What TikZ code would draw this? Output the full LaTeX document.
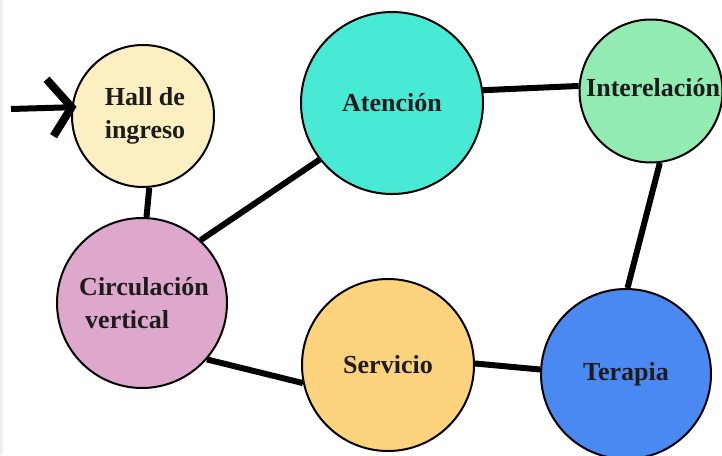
\documentclass[tikz,border=0pt]{standalone}
\usepackage{fontspec}
\setmainfont{Liberation Serif}
\definecolor{hallc}{HTML}{FCF0C2}
\definecolor{atenc}{HTML}{48EAD6}
\definecolor{interc}{HTML}{92ECB2}
\definecolor{circc}{HTML}{DDA8CB}
\definecolor{servc}{HTML}{FDD37D}
\definecolor{terc}{HTML}{4A89F2}
\definecolor{txtc}{HTML}{1C1C1C}
\begin{document}
\begin{tikzpicture}[x=1pt,y=-1pt,
  room/.style={circle,draw=black,line width=2pt,inner sep=0pt,
    font=\bfseries\fontsize{26}{33}\selectfont,text=txtc},
  lbl/.style={inner sep=0pt,font=\bfseries\fontsize{26}{33}\selectfont,text=txtc},
  link/.style={line width=6pt,black}]
\useasboundingbox (0,0) rectangle (722,455);
\clip (0,0) rectangle (722,455);
\fill[white] (0,0) rectangle (722,455);
\fill[gray!12] (0,0) rectangle (3,455);
\node[room,fill=hallc,minimum size=142pt,align=left] (hall) at (143,116) {\hspace{4pt}Hall de\\\hspace{4pt}ingreso};
\node[room,fill=atenc,minimum size=182pt] (aten) at (392,103) {\raisebox{-3pt}{Atención}};
\node[room,fill=interc,minimum size=143pt] (inter) at (651,91) {};
\node[lbl,anchor=west] (intertxt) at (586,88) {Interelación};
\node[room,fill=circc,minimum size=170pt,align=left] (circ) at (142,303) {\hspace{4pt}Circulación\\\hspace{10pt}vertical};
\node[room,fill=servc,minimum size=172pt] (serv) at (388,365) {\raisebox{-4pt}{Servicio}};
\node[room,fill=terc,minimum size=170pt] (ter) at (626,374) {\raisebox{-6pt}{Terapia}};
\coordinate (entry) at (11,109);
\draw[link] (hall.-85) -- (circ.87);
\draw[link] (circ.47) -- (aten.218);
\draw[link] (circ.-41) -- (serv.192);
\draw[link] (serv.1) -- (ter.177);
\draw[link] (aten.8) -- (inter.176);
\draw[link] (inter.-83) -- (ter.89);
\draw[link] (entry) -- (hall.173);
\draw[line width=8pt,miter limit=10] (hall.173) ++(-25,-28) -- (hall.173) -- ++(-18,29);
\end{tikzpicture}
\end{document}
